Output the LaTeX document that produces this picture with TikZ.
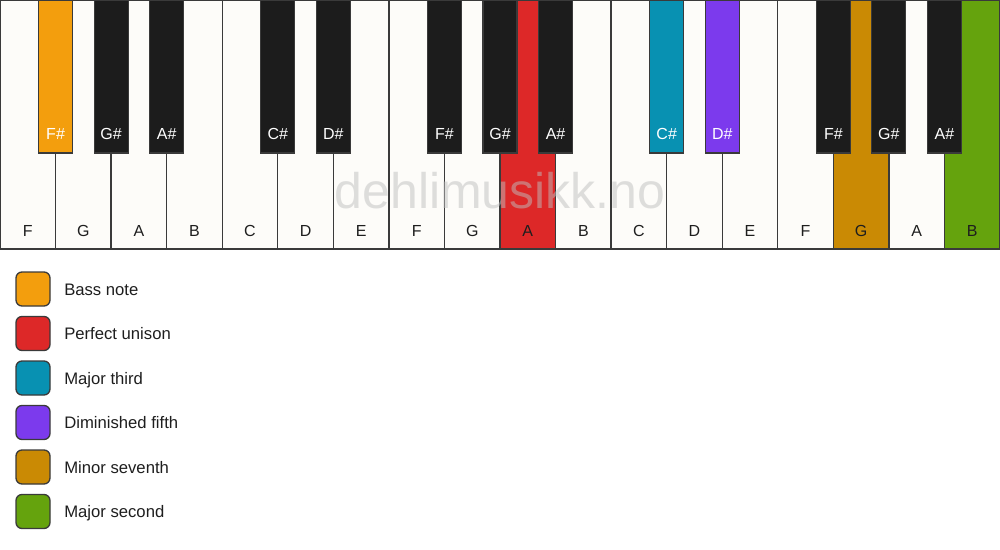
\documentclass[tikz,border=0pt]{standalone}
\usepackage{fontspec}
\setmainfont{Liberation Sans}
\usetikzlibrary{positioning}
\definecolor{keywhite}{RGB}{253,252,249}
\definecolor{keyblack}{RGB}{28,28,28}
\definecolor{keyline}{RGB}{58,58,58}
\definecolor{textdark}{RGB}{30,30,30}
\definecolor{bassorange}{RGB}{243,158,13}
\definecolor{unisonred}{RGB}{221,40,40}
\definecolor{thirdteal}{RGB}{8,145,178}
\definecolor{fifthpurple}{RGB}{124,58,237}
\definecolor{seventhbrown}{RGB}{202,138,4}
\definecolor{secondgreen}{RGB}{101,163,13}

\begin{document}
\begin{tikzpicture}[
        x=0.75pt, y=-0.75pt,
        keyfont/.style={font=\fontsize{12}{14}\selectfont},
        wkey/.style={draw=keyline, line width=1pt, fill=keywhite, anchor=north west, inner sep=0pt, outer sep=0pt,
            minimum width=41.67pt, minimum height=186.75pt,
            label={[keyfont, text=textdark, anchor=base, yshift=9.75pt]south:#1}},
        bkey/.style={draw=keyline, line width=0.8pt, fill=keyblack, anchor=north, inner sep=0pt, outer sep=0pt,
            minimum width=25.5pt, minimum height=114.75pt,
            label={[keyfont, text=white, anchor=base, yshift=10.5pt]south:#1}},
        swatch/.style={draw=keyline, line width=1pt, rounded corners=4.5pt, minimum size=25.5pt, inner sep=0pt},
        legtext/.style={font=\fontsize{12.5}{15}\selectfont, text=textdark, inner sep=0pt,
            right=10pt of #1, anchor=base west, yshift=-4.5pt}
    ]
        \useasboundingbox (0,0) rectangle (1000,550);

        % White keys
        \node[wkey=F] (w1) at (0,0) {};
        \node[wkey=G] (w2) at (55.56,0) {};
        \node[wkey=A] (w3) at (111.11,0) {};
        \node[wkey=B] (w4) at (166.67,0) {};
        \node[wkey=C] (w5) at (222.22,0) {};
        \node[wkey=D] (w6) at (277.78,0) {};
        \node[wkey=E] (w7) at (333.33,0) {};
        \node[wkey=F] (w8) at (388.89,0) {};
        \node[wkey=G] (w9) at (444.44,0) {};
        \node[wkey=A, fill=unisonred] (w10) at (500,0) {};
        \node[wkey=B] (w11) at (555.56,0) {};
        \node[wkey=C] (w12) at (611.11,0) {};
        \node[wkey=D] (w13) at (666.67,0) {};
        \node[wkey=E] (w14) at (722.22,0) {};
        \node[wkey=F] (w15) at (777.78,0) {};
        \node[wkey=G, fill=seventhbrown] (w16) at (833.33,0) {};
        \node[wkey=A] (w17) at (888.89,0) {};
        \node[wkey=B, fill=secondgreen] (w18) at (944.44,0) {};

        % Black keys
        \node[bkey=F\#, fill=bassorange] (b1) at (55.56,0) {};
        \node[bkey=G\#] (b2) at (111.11,0) {};
        \node[bkey=A\#] (b3) at (166.67,0) {};
        \node[bkey=C\#] (b4) at (277.78,0) {};
        \node[bkey=D\#] (b5) at (333.33,0) {};
        \node[bkey=F\#] (b6) at (444.44,0) {};
        \node[bkey=G\#] (b7) at (500,0) {};
        \node[bkey=A\#] (b8) at (555.56,0) {};
        \node[bkey=C\#, fill=thirdteal] (b9) at (666.67,0) {};
        \node[bkey=D\#, fill=fifthpurple] (b10) at (722.22,0) {};
        \node[bkey=F\#] (b11) at (833.33,0) {};
        \node[bkey=G\#] (b12) at (888.89,0) {};
        \node[bkey=A\#] (b13) at (944.44,0) {};

        % Watermark
        \node[text=black!25, text opacity=0.5, font=\fontsize{37.5}{40}\selectfont] (mark) at (500,191) {dehlimusikk.no};

        % Legend
        \node[swatch, fill=bassorange] (sw1) at (33,289) {};
        \node[swatch, fill=unisonred] (sw2) at (33,333.5) {};
        \node[swatch, fill=thirdteal] (sw3) at (33,378) {};
        \node[swatch, fill=fifthpurple] (sw4) at (33,422.5) {};
        \node[swatch, fill=seventhbrown] (sw5) at (33,467) {};
        \node[swatch, fill=secondgreen] (sw6) at (33,511.5) {};
        \node[legtext=sw1] (lg1) {Bass note};
        \node[legtext=sw2] (lg2) {Perfect unison};
        \node[legtext=sw3] (lg3) {Major third};
        \node[legtext=sw4] (lg4) {Diminished fifth};
        \node[legtext=sw5] (lg5) {Minor seventh};
        \node[legtext=sw6] (lg6) {Major second};
    \end{tikzpicture}
\end{document}
